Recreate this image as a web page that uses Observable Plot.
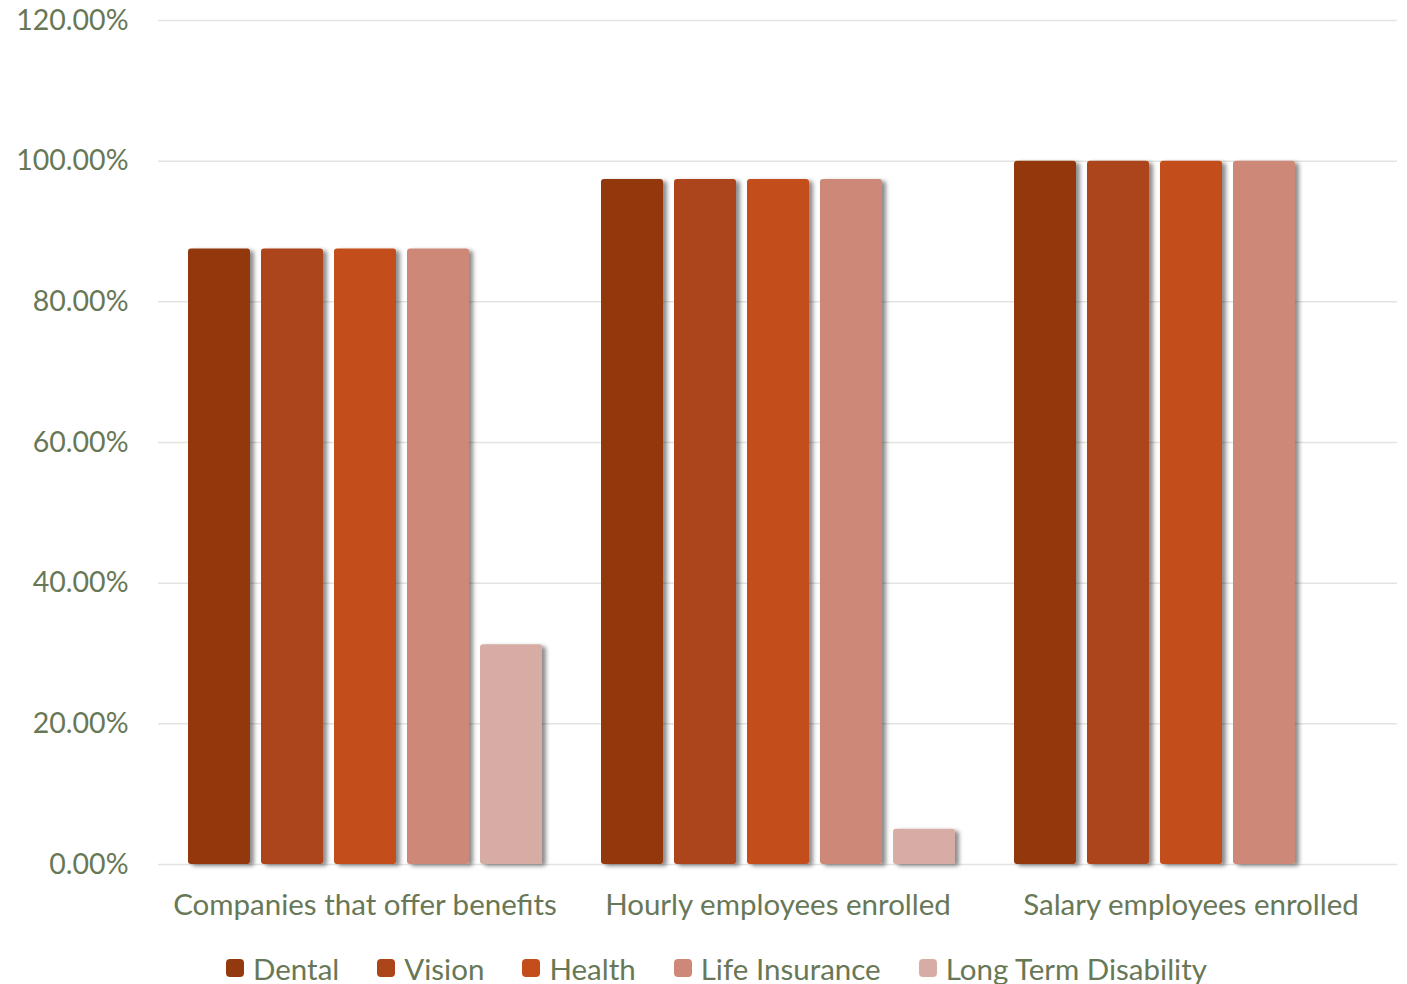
<!DOCTYPE html>
<html>
<head>
<meta charset="utf-8">
<script src="https://cdn.jsdelivr.net/npm/d3@7"></script>
<script src="https://cdn.jsdelivr.net/npm/@observablehq/plot@0.6"></script>
<style>
  html, body { margin: 0; padding: 0; background: #fff; }
  #chart svg { display: block; }
  .legend { display: flex; justify-content: center; align-items: center; height: 36px;
    font-family: Lato, "Open Sans", sans-serif; font-size: 29.5px; color: #687857; padding-left: 26px; }
  .legend .item { display: flex; align-items: center; margin: 0 19px; }
  .legend .sw { width: 18px; height: 18px; border-radius: 4px; margin-right: 9px; }
</style>
</head>
<body>
<div id="chart"></div>
<div class="legend" id="legend"></div>
<script>
const categories = ["Companies that offer benefits", "Hourly employees enrolled", "Salary employees enrolled"];
const series = ["Dental", "Vision", "Health", "Life Insurance", "Long Term Disability"];
const dental = [0.875, 0.974, 1.0];
const vision = [0.875, 0.974, 1.0];
const health = [0.875, 0.974, 1.0];
const lifeInsurance = [0.875, 0.974, 1.0];
const longTermDisability = [0.3125, 0.05, null];
const colors = ["#93390f", "#ad451a", "#c44d1c", "#cd8878", "#d7aca4"];
const yTicks = [0, 0.2, 0.4, 0.6, 0.8, 1.0, 1.2];

const seriesValues = [dental, vision, health, lifeInsurance, longTermDisability];
const data = [];
categories.forEach((c, i) => {
  series.forEach((s, j) => {
    const v = seriesValues[j][i];
    if (v != null) data.push({category: c, series: s, value: v});
  });
});

const font = 'Lato, "Open Sans", sans-serif';
const textColor = "#687857";

const plot = Plot.plot({
  width: 1407,
  height: 950,
  marginLeft: 157,
  marginRight: 10,
  marginTop: 20,
  marginBottom: 86,
  style: {fontFamily: font, fontSize: "29.5px", color: textColor, background: "#fff"},
  fx: {domain: categories, padding: 0, label: null, axis: "bottom", tickSize: 0, tickPadding: 30},
  x: {domain: series, axis: null, paddingInner: 0.156, paddingOuter: 0.39},
  y: {domain: [0, 1.2], ticks: yTicks, tickFormat: d3.format(".2%"), label: null, tickSize: 0, tickPadding: 30},
  color: {domain: series, range: colors},
  marks: [
    Plot.ruleY(yTicks, {stroke: "#e3e3e0", strokeWidth: 1.5}),
    Plot.barY(data, {fx: "category", x: "series", y: "value", fill: "series", rx: 3})
  ]
});

const svg = d3.select(plot);
const defs = svg.insert("defs", ":first-child");
const f = defs.append("filter").attr("id", "shadow").attr("x", "-20%").attr("y", "-5%").attr("width", "150%").attr("height", "115%");
f.append("feDropShadow").attr("dx", 4).attr("dy", 2).attr("stdDeviation", 2.2).attr("flood-color", "#000").attr("flood-opacity", 0.45);
svg.selectAll('g[aria-label="bar"]').attr("filter", "url(#shadow)");
svg.selectAll('g[aria-label="fx-axis tick label"] text, g[aria-label="y-axis tick label"] text').attr("fill", textColor);
svg.selectAll('g[aria-label="y-axis tick label"]').style("font-size", "28.5px");

document.getElementById("chart").appendChild(plot);

const legend = document.getElementById("legend");
series.forEach((s, i) => {
  const it = document.createElement("div");
  it.className = "item";
  const sw = document.createElement("div");
  sw.className = "sw";
  sw.style.background = colors[i];
  const t = document.createElement("span");
  t.textContent = s;
  it.appendChild(sw);
  it.appendChild(t);
  legend.appendChild(it);
});
</script>
</body>
</html>
